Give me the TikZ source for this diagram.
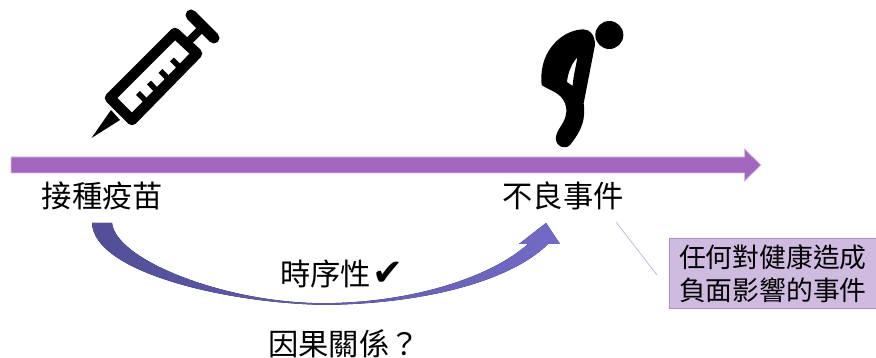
\documentclass[tikz,border=0pt]{standalone}
\usepackage{fontspec}
\usetikzlibrary{shadings}
\newfontfamily\cjk{Noto Sans CJK TC}
\newfontfamily\symb{DejaVu Sans}
\definecolor{axisfill}{HTML}{A366BE}
\definecolor{axisedge}{HTML}{D5BCE4}
\definecolor{boxfill}{HTML}{CFBBE0}
\definecolor{boxedge}{HTML}{B48ACF}
\definecolor{leader}{HTML}{C9B4DD}
\definecolor{curveA}{HTML}{524E98}
\definecolor{curveB}{HTML}{726AC6}
\tikzset{
  lab/.style={font=\cjk\fontsize{30.3}{32}\selectfont,inner sep=0pt,text=black},
  notebox/.style={font=\cjk\fontsize{26.8}{34}\selectfont,fill=boxfill,draw=boxedge,line width=0.8pt,
    minimum width=207pt,minimum height=70pt,inner sep=0pt,align=center,text=black},
  syr/.style={draw=black,line join=round,line cap=round,fill=none}
}
\begin{document}
\begin{tikzpicture}[x=1pt,y=-1pt]
\path[use as bounding box,fill=white] (0,0) rectangle (876,358);
% timeline arrow
\fill[axisfill,draw=axisedge,line width=0.7pt] (11,157) -- (744.5,157) -- (744.5,149) -- (761,165) -- (744.5,181) -- (744.5,173) -- (11,173) -- cycle;
% syringe
\fill[black] (91.5,138) -- (111,110) -- (120,120) -- cycle;
\draw[syr,line width=10.5pt] (110,98) -- (175,33) -- (197,53.5) -- (132,120) -- cycle;
\draw[syr,line width=8pt,line cap=butt] (187,43) -- (203,27);
\draw[syr,line width=11pt] (191,15) -- (214,38);
\draw[syr,line width=5.5pt,line cap=butt] (138,93) -- (148,103);
\draw[syr,line width=5.5pt,line cap=butt] (149,82.5) -- (158,92);
\draw[syr,line width=5.5pt,line cap=butt] (160.5,71) -- (170,80.5);
\draw[syr,line width=5.5pt,line cap=butt] (172,59.5) -- (181,68.5);
% person
\begin{scope}[shift={(520,10)},x=0.3333pt,y=-0.3333pt]
\fill[black] (268,75) circle[radius=42pt/3];
\fill[black,even odd rule]
  (225,105) .. controls (225,75) and (210,58) .. (190,58)
  .. controls (140,60) and (95,95) .. (75,145)
  .. controls (65,170) and (62,200) .. (65,225)
  .. controls (85,240) and (115,245) .. (130,270)
  .. controls (145,295) and (140,320) .. (125,345)
  .. controls (115,360) and (105,375) .. (108,392)
  .. controls (112,410) and (135,420) .. (150,405)
  .. controls (170,380) and (190,350) .. (192,315)
  .. controls (193,300) and (193,290) .. (191,280)
  -- (225,105) -- cycle
  (172,142) .. controls (155,160) and (143,190) .. (141,216)
  -- (158,228) .. controls (160,195) and (168,170) .. (172,142) -- cycle;
\end{scope}
% labels
\node[lab] (vac) at (102.5,196) {接種疫苗};
\node[lab] (ae) at (563,196) {不良事件};
\node[lab,anchor=west] (seq) at (280,274) {時序性};
\node[anchor=west,inner sep=0pt,font=\symb\fontsize{37}{40}\selectfont] (chk) at (372,274) {✔};
\node[lab,anchor=west] (cause) at (268,344) {因果關係？};
% note box
\node[notebox,anchor=north west] (note) at (669,238) {任何對健康造成\\[-1pt]負面影響的事件};
\coordinate (leadA) at (616,222);
\coordinate (leadB) at (657,275);
\draw[leader,line width=0.8pt] (leadA) -- (leadB);
% curved arrow
\fill[left color=curveA,right color=curveB,shading angle=90]
  (92,223) -- (112,223)
  .. controls (116,260) and (225,303) .. (323,303.2)
  .. controls (410,303) and (490,278) .. (528,244)
  -- (519,244) -- (546,223) -- (560,244) -- (548,244)
  .. controls (510,282) and (420,304.5) .. (323,304.8)
  .. controls (225,303) and (94,272) .. (92,223) -- cycle;
\end{tikzpicture}
\end{document}
